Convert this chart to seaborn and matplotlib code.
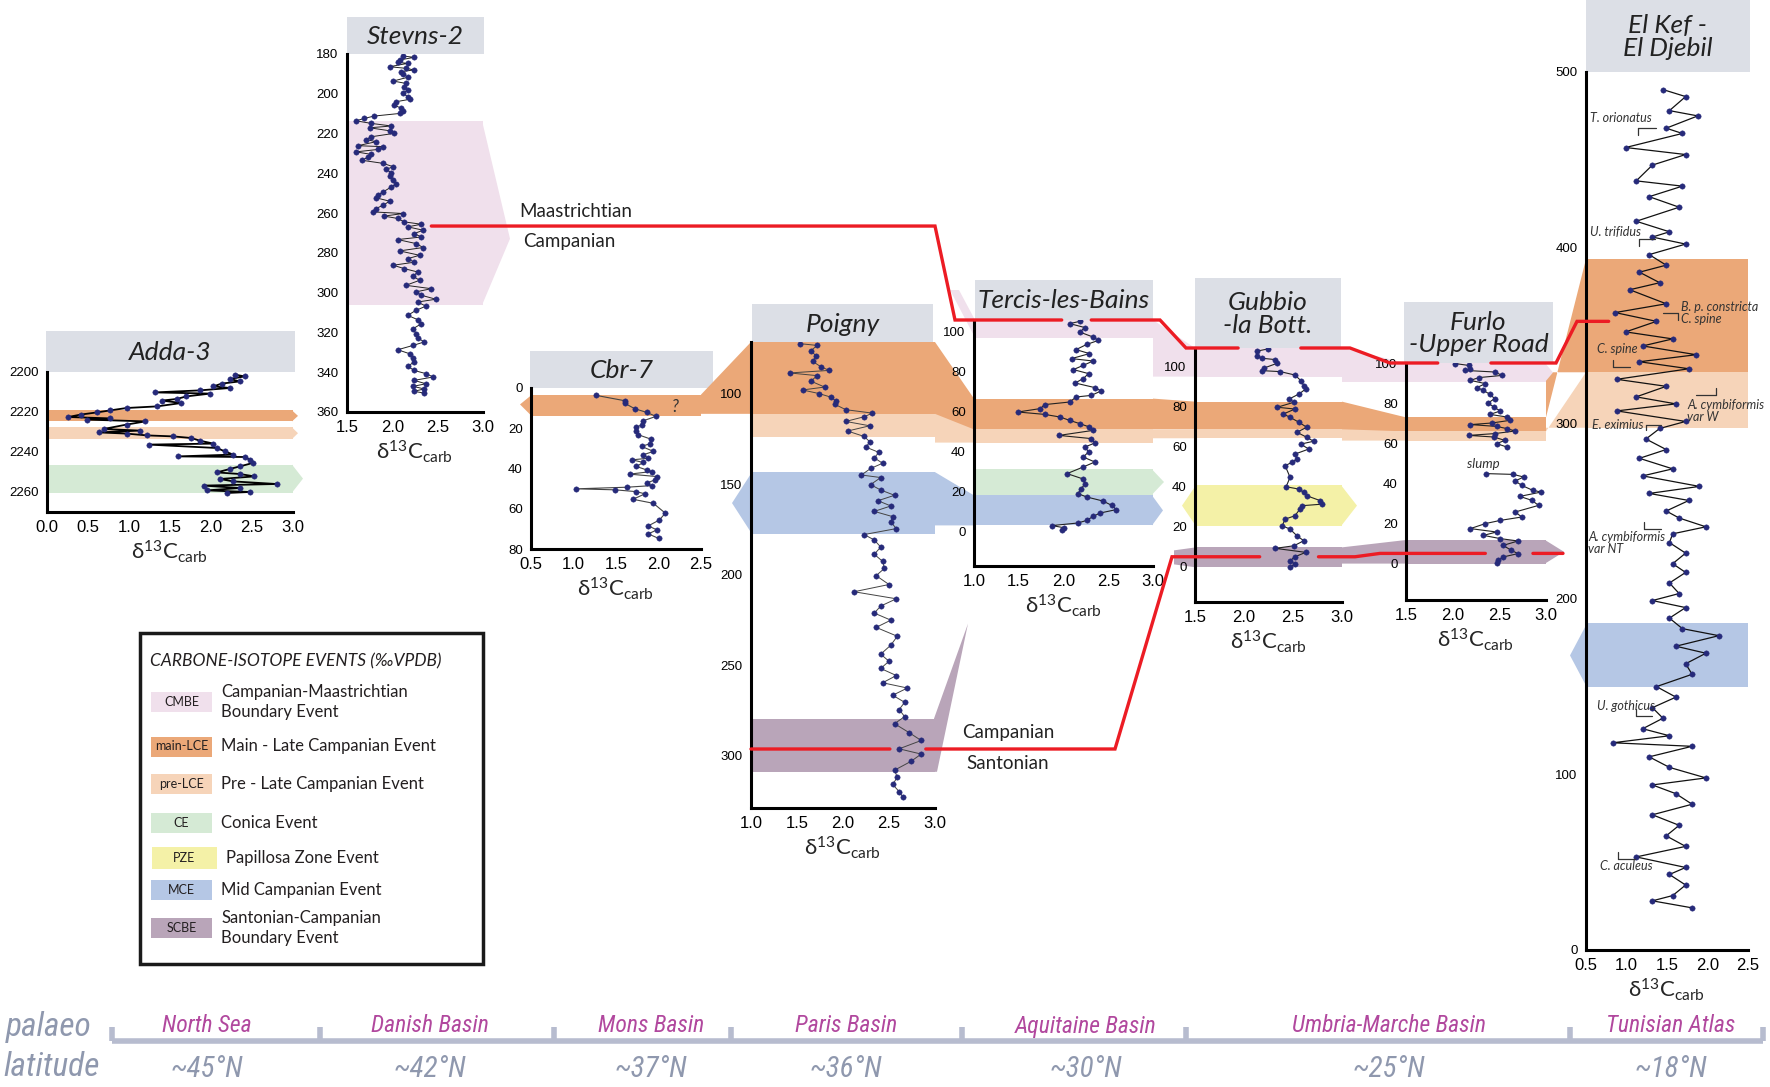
import matplotlib
matplotlib.use("Agg")
import matplotlib.pyplot as plt
import seaborn as sns
from matplotlib import font_manager
from matplotlib.patches import Polygon, Rectangle

W, H = 1770, 1087

# ---------------- data ----------------
adda_depth = [2201.3, 2202.2, 2203.5, 2204.7, 2205.8, 2207.2, 2208.0, 2209.2, 2210.2, 2210.8,
              2212.2, 2213.5, 2214.3, 2215.5, 2217.2, 2218.0, 2219.2, 2220.2, 2221.3, 2222.5,
              2223.2, 2223.8, 2224.7, 2226.3, 2228.5, 2229.3, 2230.2, 2230.8, 2231.7, 2232.2,
              2233.0, 2234.3, 2235.8, 2236.3, 2238.0, 2239.7, 2241.3, 2242.2, 2242.5, 2243.8,
              2245.5, 2247.2, 2248.5, 2250.2, 2251.0, 2252.2, 2253.5, 2254.7, 2256.0, 2256.8,
              2258.0, 2259.2, 2260.0, 2260.5]
adda_d13c = [2.29, 2.41, 2.23, 2.35, 2.13, 2.03, 2.23, 1.86, 1.32, 1.99,
             1.70, 1.58, 1.40, 1.64, 1.34, 0.97, 0.77, 0.61, 0.41, 0.26,
             0.77, 0.49, 1.20, 0.97, 0.69, 1.13, 0.63, 0.97, 1.22, 1.54,
             1.76, 1.86, 2.03, 1.24, 2.07, 2.17, 2.27, 1.60, 2.41, 2.47,
             2.51, 2.35, 2.23, 2.07, 2.35, 2.53, 2.11, 2.27, 2.80, 1.91,
             2.35, 1.95, 2.47, 2.19]

stevns_depth = [181, 181.7, 183, 184.2, 184.7, 186.4, 187.2, 188, 188.9, 190, 191.7, 193.6, 194.8,
                196.8, 198.1, 199.8, 201.5, 202.8, 204, 205.7, 207.3, 208.7, 209.9, 211.2, 212.4,
                213.6, 214.9, 216.2, 217.1, 218.6, 219.9, 221.6, 223, 224.1, 226.1, 226.6, 228,
                229.2, 230.5, 232, 233.4, 235, 236.7, 238, 239.7, 241.4, 243.4, 245.4, 246.8,
                249.3, 251, 252.3, 254, 256, 257.7, 259.4, 260.2, 261.5, 262.7, 264.4, 265.6,
                266.9, 268.6, 270.3, 272, 273.3, 275.3, 277.3, 279, 281.2, 282.9, 284.7, 286.2,
                287.9, 289.6, 291.7, 293.8, 296.3, 298, 299.6, 301.3, 303.3, 304.7, 306.8, 308.9,
                311.4, 313.6, 315.6, 318.1, 320.6, 322.6, 324.8, 326.5, 328.7, 330.7, 332.7,
                334.9, 337, 339.1, 340.7, 342.4, 344.1, 345.8, 347.1, 348.4, 349.6, 350.5]
stevns_d13c = [2.12, 2.24, 2.08, 2.06, 2.17, 1.97, 2.15, 2.24, 2.10, 2.12, 2.17, 2.01, 2.15,
               2.13, 2.17, 2.12, 2.17, 2.19, 2.04, 2.02, 2.10, 2.12, 2.08, 1.80, 1.69,
               1.60, 1.77, 1.99, 1.75, 1.97, 2.02, 1.77, 1.71, 1.82, 1.62, 1.90, 1.84,
               1.60, 1.77, 1.73, 1.66, 1.90, 2.01, 1.93, 1.99, 1.97, 2.01, 2.04, 1.99,
               1.90, 1.84, 1.82, 1.97, 1.90, 1.82, 1.79, 2.12, 1.91, 2.06, 2.13, 2.32,
               2.17, 2.34, 2.24, 2.32, 2.06, 2.26, 2.34, 2.08, 2.30, 2.17, 2.24, 2.01,
               2.13, 2.28, 2.23, 2.30, 2.15, 2.43, 2.26, 2.32, 2.48, 2.28, 2.37, 2.26,
               2.17, 2.28, 2.32, 2.23, 2.26, 2.28, 2.35, 2.23, 2.06, 2.19, 2.23,
               2.24, 2.17, 2.24, 2.37, 2.45, 2.24, 2.37, 2.23, 2.35, 2.24, 2.35]

cbr_depth = [3.7, 6.3, 7.5, 10.3, 12.1, 14.1, 16.3, 18.3, 19.6, 21.6, 23.2, 25.4, 27.7, 29, 31.5,
             33.2, 34.9, 35.7, 37, 39, 40.7, 41.5, 42.8, 44, 45.6, 47.3, 48.5, 49.3, 50.1, 50.6,
             51.5, 52.6, 55.3, 57.3, 62.2, 65.6, 68.5, 70.5, 72.5, 74.7]
cbr_d13c = [1.27, 1.60, 1.60, 1.72, 1.86, 1.97, 1.82, 1.80, 1.74, 1.74, 1.76, 1.91, 1.90, 1.80, 1.94,
            1.82, 1.88, 1.69, 1.82, 1.74, 1.86, 1.92, 1.66, 1.98, 1.96, 1.86, 1.92, 1.63, 1.03, 1.49,
            1.74, 1.84, 1.70, 1.94, 2.08, 2.01, 1.88, 1.98, 1.88, 2.00]

poigny_depth = [72.4, 73.4, 76.3, 79.3, 82.2, 85.2, 87.2, 88.6, 90.1, 93.1, 96.4, 98.0, 100, 102, 104,
                105.9, 108.9, 110.8, 112.8, 115.4, 117.8, 120.7, 123.7, 126.6, 129.6, 132.5, 135.5,
                138.5, 141.4, 145, 146.4, 150.3, 153.3, 156.2, 159.2, 162.1, 165.1, 168, 171, 174.6,
                177.9, 180.9, 184.8, 188.8, 192.7, 196.6, 200.6, 205.5, 209.5, 213.4, 217.4, 221.3,
                225.2, 229.2, 234.1, 239, 244, 247.9, 251.9, 255.8, 259.8, 262.7, 266.7, 270.6,
                274.6, 278.5, 282.4, 287.4, 291.7, 296.3, 299.2, 303.2, 308.1, 312, 316, 319.9, 322.9]
poigny_d13c = [1.53, 1.72, 1.65, 1.71, 1.67, 1.76, 1.85, 1.42, 1.72, 1.65, 1.80, 1.56, 1.74, 1.87, 1.92,
               1.91, 2.03, 2.32, 2.23, 2.03, 2.29, 2.05, 2.23, 2.29, 2.25, 2.39, 2.34,
               2.43, 2.30, 2.20, 2.41, 2.30, 2.41, 2.56, 2.38, 2.52, 2.34, 2.54, 2.52, 2.58,
               2.23, 2.34, 2.41, 2.34, 2.43, 2.45, 2.36, 2.50, 2.12, 2.58, 2.41, 2.34,
               2.52, 2.36, 2.59, 2.52, 2.41, 2.50, 2.41, 2.58, 2.43, 2.70, 2.54, 2.67,
               2.61, 2.67, 2.56, 2.72, 2.85, 2.61, 2.85, 2.74, 2.56, 2.59, 2.54, 2.61, 2.65]

tercis_height = [104.8, 103.7, 101.7, 99.5, 97, 95.3, 93.3, 90.7, 88.7, 86.2, 85, 82.8, 80.7, 78.7,
                 76.2, 74, 71.7, 70, 67.8, 67, 64.5, 63.2, 61.2, 59.5, 58.3, 57, 55.3, 53.7, 52,
                 50.3, 47.8, 46.2, 44, 42, 39.5, 37, 34.5, 32, 28.7, 26, 23.7, 21.2, 18.7, 17, 15,
                 12.8, 10.7, 9, 7.3, 5.3, 4, 2.7, 1.7, 0.3]
tercis_d13c = [2.18, 2.07, 2.24, 2.18, 2.33, 2.39, 2.26, 2.14, 2.29, 2.09, 2.33, 2.22, 2.11, 2.28,
               2.22, 2.13, 2.35, 2.42, 2.31, 2.14, 2.07, 1.79, 1.74, 1.49, 1.79, 1.96, 2.07, 2.18, 2.29,
               2.33, 1.95, 2.31, 2.35, 2.24, 2.28, 2.22, 2.35, 2.22, 2.04, 2.22, 2.24, 2.20, 2.16, 2.26,
               2.44, 2.54, 2.59, 2.41, 2.33, 2.26, 2.16, 1.87, 2.00, 1.98]

gubbio_height = [108.8, 107.7, 105.5, 104.2, 103.5, 101.7, 99.2, 98, 97.5, 95.8, 93, 90.5, 88.8, 86.3,
                 83.8, 82.2, 79.7, 78.8, 76.3, 74.7, 72.2, 69.7, 67.2, 64.7, 62.7, 61.3, 58.8, 56.3,
                 53.8, 52.2, 50.5, 44.7, 40, 38.8, 37.2, 35.5, 33, 31.3, 30.5, 28.8, 25.5, 23.8, 20.5,
                 18.8, 15.5, 13, 10.5, 9.2, 7.2, 5, 3, 1.3, 0]
gubbio_d13c = [2.24, 2.13, 2.13, 2.18, 2.32, 2.34, 2.20, 2.18, 2.37, 2.52, 2.58, 2.61, 2.63, 2.56,
               2.46, 2.51, 2.34, 2.52, 2.40, 2.47, 2.56, 2.64, 2.54, 2.64, 2.71, 2.58, 2.66, 2.52,
               2.54, 2.49, 2.42, 2.47, 2.43, 2.56, 2.61, 2.64, 2.78, 2.80, 2.59, 2.57, 2.52, 2.42, 2.39,
               2.47, 2.54, 2.61, 2.51, 2.32, 2.63, 2.52, 2.47, 2.52, 2.47]

# Furlo is split by the slump interval
furlo_upper_height = [99.7, 98.8, 97.2, 96.3, 95.5, 93.8, 92.7, 91.3, 89.7, 87.7, 86.3, 84.3, 82.2, 80,
                      78, 76, 74.3, 73, 71.3, 70, 69.2, 68.3, 67.2, 66, 64.7, 63.8, 63, 61.3, 59.7, 58]
furlo_upper_d13c = [2.03, 2.17, 2.19, 2.13, 2.45, 2.53, 2.28, 2.19, 2.35, 2.26, 2.33, 2.40, 2.45, 2.38,
                    2.44, 2.51, 2.40, 2.58, 2.61, 2.42, 2.19, 2.47, 2.58, 2.67, 2.45, 2.17, 2.44, 2.56,
                    2.47, 2.58]
furlo_lower_height = [44.7, 44.3, 43, 41, 38.8, 36.3, 35.5, 33.3, 31.3, 28.8, 25.5, 23, 21.3, 19.7,
                      17.2, 15.5, 13.8, 12.2, 11, 8.8, 6.3, 4.7, 3, 1.3, 0]
furlo_lower_d13c = [2.36, 2.65, 2.76, 2.67, 2.74, 2.86, 2.95, 2.72, 2.85, 2.92, 2.67, 2.74, 2.51, 2.35,
                    2.19, 2.47, 2.33, 2.51, 2.70, 2.54, 2.63, 2.70, 2.54, 2.49, 2.47]

elkef_height = [490, 486, 478, 475, 468, 465, 457, 453, 447, 438, 435, 429, 423, 415, 409, 406, 402,
                396, 390, 386, 380, 376, 368, 363, 358, 352, 348, 344, 339, 335, 331, 325, 321, 315,
                311, 307, 301, 297, 291, 285, 280, 274, 270, 264, 260, 256, 250, 246, 241, 237, 232,
                226, 220, 215, 209, 203, 199, 195, 189, 183, 179, 173, 169, 163, 157, 150, 144, 138,
                132, 126, 122, 118, 116, 110, 104, 98, 94, 89, 83, 77, 71, 65, 59, 53, 47, 43, 37,
                31, 28, 24]
elkef_d13c = [1.45, 1.73, 1.53, 1.88, 1.49, 1.69, 0.99, 1.73, 1.32, 1.12, 1.69, 1.28, 1.65, 1.12, 1.53,
              1.32, 1.73, 1.28, 1.49, 1.16, 1.41, 1.04, 1.49, 0.86, 1.37, 0.99, 1.57, 1.20, 1.86, 1.16,
              1.77, 0.88, 1.49, 1.12, 1.61, 0.88, 1.73, 1.41, 1.24, 1.49, 1.16, 1.57, 1.20, 1.90, 1.28,
              1.77, 1.49, 1.65, 1.98, 1.57, 1.53, 1.73, 1.57, 1.73, 1.53, 1.65, 1.32, 1.73, 1.53, 1.69,
              2.14, 1.61, 1.98, 1.73, 1.81, 1.37, 1.61, 1.32, 1.45, 1.20, 1.53, 0.83, 1.81, 1.28, 1.53,
              1.98, 1.32, 1.61, 1.81, 1.32, 1.65, 1.49, 1.73, 1.12, 1.73, 1.53, 1.73, 1.57, 1.32, 1.81]

# carbon-isotope event intervals per section (depth / height range)
adda_events = {"main-LCE": (2219.2, 2224.7), "pre-LCE": (2227.7, 2233.5), "CE": (2246.3, 2260.3)}
stevns_events = {"CMBE": (213.5, 306.3)}
cbr_events = {"main-LCE": (3.3, 14.1)}
poigny_events = {"main-LCE": (71.5, 111.2), "pre-LCE": (111.2, 123.9), "MCE": (143.4, 177.6),
                 "SCBE": (279.6, 309.0)}
tercis_events = {"CMBE": (96.7, 105.5), "main-LCE": (50.8, 66.2), "pre-LCE": (44.2, 50.8),
                 "CE": (18.2, 30.8), "MCE": (2.8, 17.8)}
gubbio_events = {"CMBE": (95.0, 109.3), "main-LCE": (68.7, 82.5), "pre-LCE": (64.2, 68.7),
                 "PZE": (20.3, 40.8), "SCBE": (-0.3, 9.7)}
furlo_events = {"CMBE": (90.5, 100.0), "main-LCE": (65.8, 72.8), "pre-LCE": (61.2, 65.8),
                "SCBE": (-0.3, 11.5)}
elkef_events = {"main-LCE": (329.0, 393.5), "pre-LCE": (297.4, 329.0), "MCE": (149.5, 186.0)}

# stage boundaries (red correlation lines)
maastrichtian_campanian = {"Stevns-2": 266.5, "Tercis": 105.5, "Gubbio": 109.3, "Furlo": 100.0,
                           "El Kef": 358.0}
campanian_santonian = {"Poigny": 296.4, "Gubbio": 5.0, "Furlo": 4.8}

# El Kef nannofossil datums: label, text x, text height, bracket x0, x1, bracket height, tick end
elkef_datums = [
    ("T. orionatus", 0.55, 474, 1.14, 1.37, 468, 1.14, 464),
    ("U. trifidus", 0.55, 409, 1.15, 1.35, 405, 1.15, 401),
    ("B. p. constricta\nC. spine", 1.67, 363, 1.45, 1.63, 363, 1.63, 359),
    ("C. spine", 0.63, 342, 0.83, 1.04, 332, 0.83, 336),
    ("A. cymbiformis\nvar W", 1.75, 307, 1.86, 2.10, 316, 2.10, 320),
    ("E. eximius", 0.58, 299, 1.24, 1.43, 299, 1.24, 296),
    ("A. cymbiformis\nvar NT", 0.53, 232, 1.22, 1.43, 240, 1.22, 244),
    ("U. gothicus", 0.63, 139, 1.12, 1.32, 133, 1.12, 137),
    ("C. aculeus", 0.67, 48, 0.90, 1.10, 52, 0.90, 56),
]

legend_codes = ["CMBE", "main-LCE", "pre-LCE", "CE", "PZE", "MCE", "SCBE"]
legend_names = ["Campanian-Maastrichtian\nBoundary Event", "Main - Late Campanian Event",
                "Pre - Late Campanian Event", "Conica Event", "Papillosa Zone Event",
                "Mid Campanian Event", "Santonian-Campanian\nBoundary Event"]

basins = ["North Sea", "Danish Basin", "Mons Basin", "Paris Basin", "Aquitaine Basin",
          "Umbria-Marche Basin", "Tunisian Atlas"]
latitudes = ["~45°N", "~42°N", "~37°N", "~36°N", "~30°N", "~25°N", "~18°N"]

# ---------------- style ----------------
EVENT_COLORS = {"CMBE": "#f0e0ec", "main-LCE": "#eba878", "pre-LCE": "#f6d4b9", "CE": "#d5ead5",
                "PZE": "#f4f1a7", "MCE": "#b5c7e5", "SCBE": "#b9a5b9"}
NAVY = "#262a7a"
BOX = "#dcdfe6"
RED = "#ec1c24"
GREY_TXT = "#8f98ae"
MAGENTA = "#b1489e"

sns.set_style("white")
plt.rcParams["font.family"] = ["Lato", "DejaVu Sans"]
plt.rcParams["mathtext.fontset"] = "custom"
plt.rcParams["mathtext.rm"] = "Lato"
plt.rcParams["mathtext.it"] = "Lato:italic"

available = {f.name for f in font_manager.fontManager.ttflist}
NARROW = next((f for f in ["Liberation Sans Narrow", "Roboto Condensed", "Open Sans Condensed",
                           "Noto Sans Condensed"] if f in available), "Roboto")
NARROW_SCALE = 1.0 if NARROW != "Roboto" else 0.92
TICKFONT = "Liberation Sans"

# layout: axes box in pixels (left, right, top, bottom), title box (left, right, top)
SECTIONS = [
    dict(key="Adda-3", title="Adda-3", box=(47, 293, 372, 512), tbox=(46, 295, 331),
         xlim=(0, 3), ylim=(2270, 2200), xticks=[0, 0.5, 1, 1.5, 2, 2.5, 3],
         yticks=[2200, 2220, 2240, 2260], series=[(adda_depth, adda_d13c)], events=adda_events,
         line=("black", 1.3)),
    dict(key="Stevns-2", title="Stevns-2", box=(347, 483, 54, 412), tbox=(347, 484, 17),
         xlim=(1.5, 3), ylim=(360, 180), xticks=[1.5, 2, 2.5, 3],
         yticks=list(range(180, 361, 20)), series=[(stevns_depth, stevns_d13c)],
         events=stevns_events, line=("#222222", 0.7)),
    dict(key="Cbr-7", title="Cbr-7", box=(531, 701, 388, 549), tbox=(530, 713, 351),
         xlim=(0.5, 2.5), ylim=(80, 0), xticks=[0.5, 1, 1.5, 2, 2.5],
         yticks=[0, 20, 40, 60, 80], series=[(cbr_depth, cbr_d13c)], events=cbr_events,
         line=("#444444", 0.8)),
    dict(key="Poigny", title="Poigny", box=(751, 935, 342, 808), tbox=(752, 933, 304),
         xlim=(1, 3), ylim=(329, 71.5), xticks=[1, 1.5, 2, 2.5, 3],
         yticks=[100, 150, 200, 250, 300], series=[(poigny_depth, poigny_d13c)],
         events=poigny_events, line=("#444444", 0.7)),
    dict(key="Tercis", title="Tercis-les-Bains", box=(974, 1153, 320, 566), tbox=(975, 1153, 280),
         xlim=(1, 3), ylim=(-17.5, 105.5), xticks=[1, 1.5, 2, 2.5, 3],
         yticks=[0, 20, 40, 60, 80, 100], series=[(tercis_height, tercis_d13c)],
         events=tercis_events, line=("#222222", 0.8)),
    dict(key="Gubbio", title="Gubbio\n-la Bott.", box=(1195, 1342, 348, 602), tbox=(1195, 1341, 278),
         xlim=(1.5, 3), ylim=(-17.6, 109.3), xticks=[1.5, 2, 2.5, 3],
         yticks=[0, 20, 40, 60, 80, 100], series=[(gubbio_height, gubbio_d13c)],
         events=gubbio_events, line=("#222222", 0.8)),
    dict(key="Furlo", title="Furlo\n-Upper Road", box=(1406, 1546, 363, 600), tbox=(1404, 1553, 302),
         xlim=(1.5, 3), ylim=(-18.5, 100), xticks=[1.5, 2, 2.5, 3],
         yticks=[0, 20, 40, 60, 80, 100],
         series=[(furlo_upper_height, furlo_upper_d13c), (furlo_lower_height, furlo_lower_d13c)],
         events=furlo_events, line=("#222222", 0.8)),
    dict(key="El Kef", title="El Kef -\nEl Djebil", box=(1586, 1748, 72, 950), tbox=(1586, 1750, 0),
         xlim=(0.5, 2.5), ylim=(0, 500), xticks=[0.5, 1, 1.5, 2, 2.5],
         yticks=[0, 100, 200, 300, 400, 500], series=[(elkef_height, elkef_d13c)],
         events=elkef_events, line=("#111111", 0.9)),
]

# where the red boundary lines are interrupted around the data (in d13C units)
upper_gaps = {"Tercis": (1.98, 2.31), "Gubbio": (1.94, 2.58), "Furlo": (1.84, 2.41)}
lower_gaps = {"Poigny": (2.51, 2.90), "Gubbio": (2.16, 2.76), "Furlo": (2.35, 2.86)}

fig = plt.figure(figsize=(W / 100, H / 100), dpi=100)
back = fig.add_axes([0, 0, 1, 1], zorder=0)
back.set_xlim(0, W)
back.set_ylim(H, 0)
back.axis("off")
front = fig.add_axes([0, 0, 1, 1], zorder=5)
front.set_xlim(0, W)
front.set_ylim(H, 0)
front.axis("off")

axes = {}
for s in SECTIONS:
    l, r, t, b = s["box"]
    ax = fig.add_axes([l / W, 1 - b / H, (r - l) / W, (b - t) / H], zorder=2)
    ax.set_facecolor("none")
    for ev, (lo, hi) in s["events"].items():
        ax.axhspan(lo, hi, color=EVENT_COLORS[ev], lw=0, zorder=0)
    lc, lw = s["line"]
    for depth, vals in s["series"]:
        sns.lineplot(x=vals, y=depth, sort=False, estimator=None, orient="y", color=lc,
                     lw=lw, ax=ax, zorder=3)
        sns.scatterplot(x=vals, y=depth, color=NAVY, s=15, edgecolor=NAVY, linewidth=0.3,
                        ax=ax, zorder=4)
    ax.set_xlim(*s["xlim"])
    ax.set_ylim(*s["ylim"])
    ax.set_xticks(s["xticks"])
    ax.set_xticklabels([f"{v:.1f}" for v in s["xticks"]], fontfamily=TICKFONT, fontsize=12)
    ax.set_yticks(s["yticks"])
    ax.set_yticklabels([str(v) for v in s["yticks"]], fontfamily=TICKFONT, fontsize=9.5)
    ax.tick_params(direction="out", length=4, width=1.4, pad=2, colors="black")
    ax.spines["top"].set_visible(False)
    ax.spines["right"].set_visible(False)
    for side in ("left", "bottom"):
        ax.spines[side].set_linewidth(2.2)
        ax.spines[side].set_color("black")
    ax.set_xlabel(r"δ$^{13}$C$_{\mathrm{carb}}$", fontsize=16, labelpad=2)
    ax.set_ylabel("")
    # title box
    tl, tr, tt = s["tbox"]
    back.add_patch(Rectangle((tl, tt), tr - tl, t - tt, color=BOX, lw=0))
    back.text((tl + tr) / 2, (tt + t) / 2 + 1, s["title"], ha="center", va="center",
              fontsize=19, style="italic", color="#222222", linespacing=0.95)
    axes[s["key"]] = ax

events = {s["key"]: s["events"] for s in SECTIONS}


def px(ax, x, depth):
    return back.transData.inverted().transform(ax.transData.transform((x, depth)))


def edges(key):
    pos = axes[key].get_position()
    return pos.x0 * W, pos.x1 * W


def band(key, ev):
    ax = axes[key]
    lo, hi = events[key][ev]
    y1 = px(ax, ax.get_xlim()[0], lo)[1]
    y2 = px(ax, ax.get_xlim()[0], hi)[1]
    return min(y1, y2), max(y1, y2)


def gap_x(key, gaps):
    ax = axes[key]
    return px(ax, gaps[key][0], 0)[0], px(ax, gaps[key][1], 0)[0]


# connectors between neighbouring sections
connectors = [("Cbr-7", "Poigny", "main-LCE"), ("Poigny", "Tercis", "main-LCE"),
              ("Poigny", "Tercis", "pre-LCE"), ("Poigny", "Tercis", "MCE"),
              ("Tercis", "Gubbio", "CMBE"), ("Tercis", "Gubbio", "main-LCE"),
              ("Tercis", "Gubbio", "pre-LCE"), ("Gubbio", "Furlo", "CMBE"),
              ("Gubbio", "Furlo", "main-LCE"), ("Gubbio", "Furlo", "pre-LCE"),
              ("Gubbio", "Furlo", "SCBE"), ("Furlo", "El Kef", "main-LCE"),
              ("Furlo", "El Kef", "pre-LCE")]
for a, b, ev in connectors:
    ra = edges(a)[1]
    lb = edges(b)[0]
    ta, ba = band(a, ev)
    tb, bb = band(b, ev)
    back.add_patch(Polygon([(ra, ta), (lb, tb), (lb, bb), (ra, bb)], closed=True,
                           color=EVENT_COLORS[ev], lw=0))

# arrow tips: section, event, side, length (px), tip position along band
tips = [("Adda-3", "main-LCE", "right", 5, 0.5), ("Adda-3", "pre-LCE", "right", 5, 0.5),
        ("Adda-3", "CE", "right", 10, 0.5), ("Stevns-2", "CMBE", "right", 27, 0.64),
        ("Cbr-7", "main-LCE", "left", 11, 0.45), ("Poigny", "MCE", "left", 19, 0.5),
        ("Tercis", "CE", "right", 11, 0.5), ("Tercis", "MCE", "right", 10, 0.5),
        ("Gubbio", "PZE", "left", 13, 0.5), ("Gubbio", "PZE", "right", 15, 0.5),
        ("Furlo", "CMBE", "right", 7, 0.5), ("Furlo", "SCBE", "right", 18, 0.5),
        ("El Kef", "MCE", "left", 16, 0.5)]
for key, ev, side, length, frac in tips:
    l, r = edges(key)
    t, b = band(key, ev)
    if side == "right":
        pts = [(r - 1, t), (r + length, t + frac * (b - t)), (r - 1, b)]
    else:
        pts = [(l + 1, t), (l - length, t + frac * (b - t)), (l + 1, b)]
    back.add_patch(Polygon(pts, closed=True, color=EVENT_COLORS[ev], lw=0))

# wedges leading off-section
l, r = edges("Poigny")
t, b = band("Poigny", "SCBE")
back.add_patch(Polygon([(r - 1, t), (r + 33, t - 95), (r + 2, b), (r - 1, b)],
                       color=EVENT_COLORS["SCBE"], lw=0))
l, r = edges("Gubbio")
t, b = band("Gubbio", "SCBE")
back.add_patch(Polygon([(l - 21, t + 3), (l + 1, t), (l + 1, b), (l - 21, b - 3)],
                       color=EVENT_COLORS["SCBE"], lw=0))
l, r = edges("Tercis")
t, b = band("Tercis", "CMBE")
back.add_patch(Polygon([(l - 24, t - 30), (l - 15, t - 30), (l + 1, t), (l + 1, b)],
                       color=EVENT_COLORS["CMBE"], lw=0))

# ---- red stage-boundary lines ----
NAN = (float("nan"), float("nan"))
mc = maastrichtian_campanian
ys = {k: px(axes[k], axes[k].get_xlim()[0], v)[1] for k, v in mc.items()}
x0, y0 = px(axes["Stevns-2"], 2.43, mc["Stevns-2"])
xe, _ = px(axes["El Kef"], 0.78, mc["El Kef"])
upper = [(x0, y0), (edges("Poigny")[1], y0)]
for key, pad_l, pad_r in [("Tercis", 19, 7), ("Gubbio", 9, 8), ("Furlo", 16, 10)]:
    g0, g1 = gap_x(key, upper_gaps)
    upper += [(edges(key)[0] - pad_l, ys[key]), (g0, ys[key]), NAN,
              (g1, ys[key]), (edges(key)[1] + pad_r, ys[key])]
upper += [(edges("El Kef")[0] - 9, ys["El Kef"]), (xe, ys["El Kef"])]
front.plot(*zip(*upper), color=RED, lw=2.4, solid_joinstyle="miter")

cs = campanian_santonian
ys2 = {k: px(axes[k], axes[k].get_xlim()[0], v)[1] for k, v in cs.items()}
xp, yp = px(axes["Poigny"], 1.0, cs["Poigny"])
g0, g1 = gap_x("Poigny", lower_gaps)
lower = [(xp, yp), (g0, yp), NAN, (g1, yp), (edges("Tercis")[1] - 38, yp)]
for key, pad_l, pad_r in [("Gubbio", 23, 13), ("Furlo", 26, 17)]:
    g0, g1 = gap_x(key, lower_gaps)
    lower += [(edges(key)[0] - pad_l, ys2[key]), (g0, ys2[key]), NAN,
              (g1, ys2[key]), (edges(key)[1] + pad_r, ys2[key])]
front.plot(*zip(*lower), color=RED, lw=2.4, solid_joinstyle="miter")

rs = edges("Stevns-2")[1]
front.text(rs + 36, y0 - 15, "Maastrichtian", fontsize=13.5, va="center", color="#222222")
front.text(rs + 40, y0 + 15, "Campanian", fontsize=13.5, va="center", color="#222222")
rp = edges("Poigny")[1]
front.text(rp + 27, yp - 17, "Campanian", fontsize=13.5, va="center", color="#222222")
front.text(rp + 31, yp + 14, "Santonian", fontsize=13.5, va="center", color="#222222")

# small annotations
axes["Cbr-7"].text(2.2, 9.5, "?", fontsize=12, style="italic", ha="center", va="center",
                   color="#333333", zorder=5)
axes["Furlo"].text(2.33, 49.5, "slump", fontsize=9.5, style="italic", ha="center", va="center",
                   color="#333333")
kef = axes["El Kef"]
for label, tx, ty, bx0, bx1, by, tkx, tky in elkef_datums:
    kef.text(tx, ty, label, fontsize=9, style="italic", ha="left", va="center",
             color="#333333", linespacing=1.0, clip_on=False, zorder=5)
    kef.plot([bx0, bx1], [by, by], color="#333333", lw=0.9, zorder=5)
    kef.plot([tkx, tkx], [by, tky], color="#333333", lw=0.9, zorder=5)

# ---- legend box ----
front.add_patch(Rectangle((140, 633), 343, 331, facecolor="white", edgecolor="#1a1a1a", lw=2.5))
front.text(150, 661, "CARBONE-ISOTOPE EVENTS (‰VPDB)", fontsize=12.5, style="italic",
           va="center", color="#231f20")
row_y = [702, 746.5, 784, 823, 858, 890, 928]
for code, name, yc in zip(legend_codes, legend_names, row_y):
    sx, sw, sh, tx = (152, 65, 22, 226) if code == "PZE" else (151, 61, 20, 221)
    front.add_patch(Rectangle((sx, yc - sh / 2), sw, sh, color=EVENT_COLORS[code], lw=0))
    front.text(sx + sw / 2, yc, code, fontsize=9, ha="center", va="center", color="#231f20")
    front.text(tx, yc, name, fontsize=12, va="center", color="#231f20", linespacing=1.3)

# ---- palaeolatitude strip ----
ticks_x = [112, 320, 554, 731, 962, 1186, 1570, 1763]
name_x = [207, 430, 651, 846, 1086, 1389, 1671]
front.plot([ticks_x[0], ticks_x[-1]], [1041, 1041], color="#b7bccf", lw=4, solid_capstyle="butt")
for tx in ticks_x:
    front.plot([tx, tx], [1041, 1027], color="#b7bccf", lw=4, solid_capstyle="butt")
for nx, bname, lat in zip(name_x, basins, latitudes):
    front.text(nx, 1026, bname, fontsize=17 * NARROW_SCALE, style="italic", family=NARROW,
               ha="center", va="center", color=MAGENTA)
    front.text(nx, 1069, lat, fontsize=21 * NARROW_SCALE, style="italic", family=NARROW,
               ha="center", va="center", color=GREY_TXT)
front.text(6, 1027, "palaeo", fontsize=24 * NARROW_SCALE, style="italic", family=NARROW,
           va="center", color=GREY_TXT)
front.text(3, 1067, "latitude", fontsize=24 * NARROW_SCALE, style="italic", family=NARROW,
           va="center", color=GREY_TXT)

fig.savefig("out.png", dpi=100)
